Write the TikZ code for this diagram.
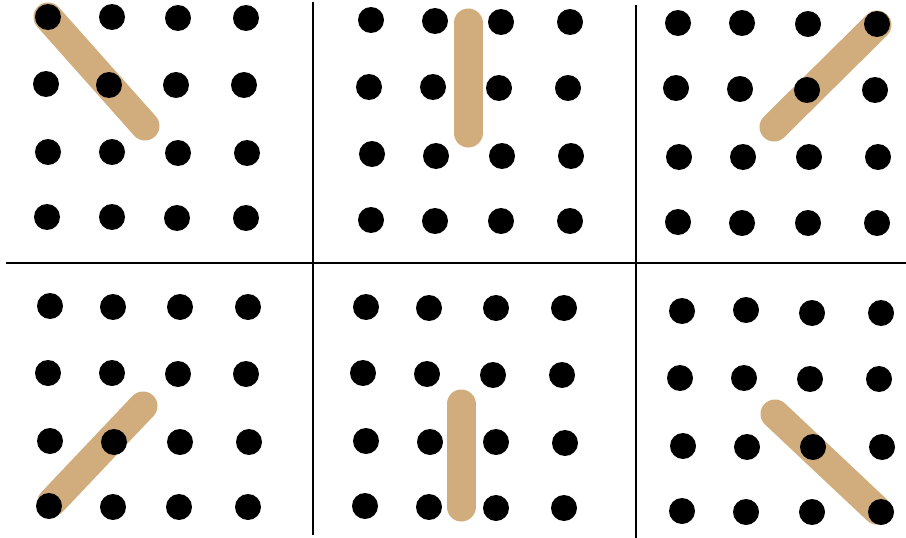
\documentclass[tikz,border=0pt]{standalone}
\definecolor{stickc}{RGB}{209,172,125}
\tikzset{
  dot/.style={circle,fill=black,draw=none,minimum size=26pt,inner sep=0pt},
  stick/.style={draw=stickc,line width=29pt,line cap=round},
  divider/.style={draw=black,line width=2.8pt}
}
\begin{document}
\begin{tikzpicture}[x=1pt,y=-1pt]
\useasboundingbox (0,0) rectangle (906,538);
% dividers
\draw[divider] (313,2) -- (313,535);
\draw[divider] (636,5) -- (636,538);
\draw[divider] (6,263) -- (906,263);
% sticks
\draw[stick] (48,17) -- (145,126);
\draw[stick] (468,23) -- (468,133);
\draw[stick] (877,25) -- (774,127);
\draw[stick] (52,502) -- (143,406);
\draw[stick] (461,404) -- (461,507);
\draw[stick] (775,414) -- (877,510);
% panel 1
\node[dot] (a11) at (48,17) {}; \node[dot] (a12) at (112,17) {}; \node[dot] (a13) at (178,18) {}; \node[dot] (a14) at (246,18) {};
\node[dot] (a21) at (46,84) {}; \node[dot] (a22) at (109,85) {}; \node[dot] (a23) at (176,85) {}; \node[dot] (a24) at (244,85) {};
\node[dot] (a31) at (48,152) {}; \node[dot] (a32) at (112,152) {}; \node[dot] (a33) at (178,153) {}; \node[dot] (a34) at (247,153) {};
\node[dot] (a41) at (47,217) {}; \node[dot] (a42) at (112,217) {}; \node[dot] (a43) at (177,218) {}; \node[dot] (a44) at (246,218) {};
% panel 2
\node[dot] (b11) at (371,20) {}; \node[dot] (b12) at (435,21) {}; \node[dot] (b13) at (501,22) {}; \node[dot] (b14) at (570,22) {};
\node[dot] (b21) at (369,87) {}; \node[dot] (b22) at (433,87) {}; \node[dot] (b23) at (499,88) {}; \node[dot] (b24) at (568,88) {};
\node[dot] (b31) at (372,154) {}; \node[dot] (b32) at (436,156) {}; \node[dot] (b33) at (502,156) {}; \node[dot] (b34) at (571,156) {};
\node[dot] (b41) at (371,220) {}; \node[dot] (b42) at (435,221) {}; \node[dot] (b43) at (501,221) {}; \node[dot] (b44) at (570,221) {};
% panel 3
\node[dot] (c11) at (678,23) {}; \node[dot] (c12) at (742,23) {}; \node[dot] (c13) at (808,24) {}; \node[dot] (c14) at (877,24) {};
\node[dot] (c21) at (676,88) {}; \node[dot] (c22) at (740,89) {}; \node[dot] (c23) at (807,90) {}; \node[dot] (c24) at (875,90) {};
\node[dot] (c31) at (679,157) {}; \node[dot] (c32) at (743,157) {}; \node[dot] (c33) at (809,157) {}; \node[dot] (c34) at (878,157) {};
\node[dot] (c41) at (678,222) {}; \node[dot] (c42) at (742,223) {}; \node[dot] (c43) at (808,223) {}; \node[dot] (c44) at (877,223) {};
% panel 4
\node[dot] (d11) at (50,306) {}; \node[dot] (d12) at (113,307) {}; \node[dot] (d13) at (180,307) {}; \node[dot] (d14) at (248,307) {};
\node[dot] (d21) at (48,373) {}; \node[dot] (d22) at (112,373) {}; \node[dot] (d23) at (178,374) {}; \node[dot] (d24) at (246,374) {};
\node[dot] (d31) at (50,441) {}; \node[dot] (d32) at (114,442) {}; \node[dot] (d33) at (180,442) {}; \node[dot] (d34) at (249,442) {};
\node[dot] (d41) at (49,506) {}; \node[dot] (d42) at (113,507) {}; \node[dot] (d43) at (179,507) {}; \node[dot] (d44) at (248,507) {};
% panel 5
\node[dot] (e11) at (366,307) {}; \node[dot] (e12) at (429,308) {}; \node[dot] (e13) at (496,308) {}; \node[dot] (e14) at (564,308) {};
\node[dot] (e21) at (363,373) {}; \node[dot] (e22) at (427,374) {}; \node[dot] (e23) at (493,375) {}; \node[dot] (e24) at (562,375) {};
\node[dot] (e31) at (366,441) {}; \node[dot] (e32) at (430,442) {}; \node[dot] (e33) at (496,442) {}; \node[dot] (e34) at (565,443) {};
\node[dot] (e41) at (365,506) {}; \node[dot] (e42) at (429,507) {}; \node[dot] (e43) at (496,508) {}; \node[dot] (e44) at (564,508) {};
% panel 6
\node[dot] (f11) at (682,311) {}; \node[dot] (f12) at (746,310) {}; \node[dot] (f13) at (812,313) {}; \node[dot] (f14) at (881,313) {};
\node[dot] (f21) at (680,378) {}; \node[dot] (f22) at (744,378) {}; \node[dot] (f23) at (810,379) {}; \node[dot] (f24) at (879,379) {};
\node[dot] (f31) at (683,446) {}; \node[dot] (f32) at (747,447) {}; \node[dot] (f33) at (813,447) {}; \node[dot] (f34) at (882,447) {};
\node[dot] (f41) at (682,511) {}; \node[dot] (f42) at (746,512) {}; \node[dot] (f43) at (812,512) {}; \node[dot] (f44) at (881,512) {};
\end{tikzpicture}
\end{document}
